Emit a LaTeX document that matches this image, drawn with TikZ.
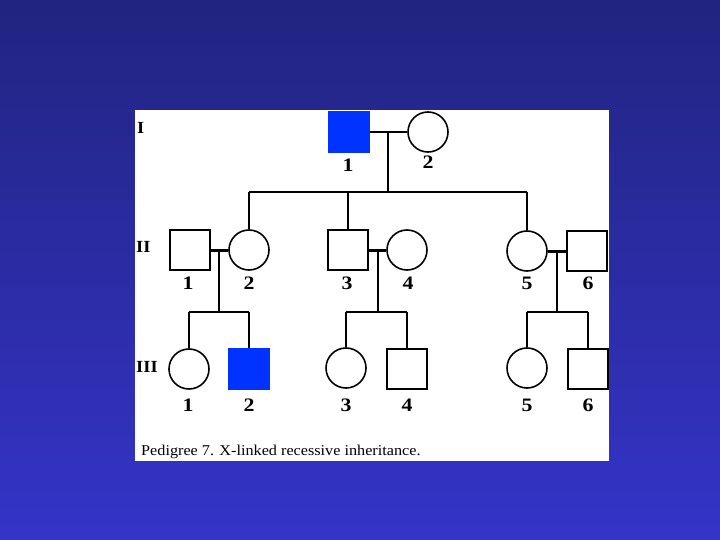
\documentclass[tikz,border=0pt]{standalone}
\usepackage{fontspec}
\setmainfont{Liberation Serif}
\definecolor{bgtop}{RGB}{34,36,128}
\definecolor{bgbot}{RGB}{52,52,200}
\definecolor{affected}{RGB}{0,51,255}
\begin{document}
\begin{tikzpicture}[x=1pt,y=-1pt,
  male/.style={draw=black,line width=1.6pt,rectangle,minimum size=40pt,inner sep=0pt,fill=white},
  female/.style={draw=black,line width=1.6pt,circle,minimum width=40pt,minimum height=40pt,inner sep=0pt,fill=white},
  aff/.style={fill=affected,draw=affected},
  num/.style={font=\fontsize{19}{19}\selectfont\bfseries,inner sep=0pt,xscale=1.15},
  gen/.style={font=\fontsize{17}{17}\selectfont\bfseries,inner sep=0pt,anchor=west,xscale=1.08},
  link/.style={line width=1.8pt},
  mate/.style={line width=3pt}]
\useasboundingbox (0,0) rectangle (720,540);
\shade[top color=bgtop,bottom color=bgbot] (0,0) rectangle (720,540);
\fill[white] (135,110) rectangle (609,461);

% Generation I
\node[male,aff] (I1) at (349,132) {};
\node[female] (I2) at (428,132) {};
\node[num] (lI1) at (348,165) {1};
\node[num] (lI2) at (428,162) {2};

% Generation II
\node[male] (II1) at (190,250) {};
\node[female] (II2) at (249,250) {};
\node[male] (II3) at (348,250) {};
\node[female] (II4) at (407,250) {};
\node[female] (II5) at (527,251) {};
\node[male] (II6) at (587,251) {};
\foreach \n/\x in {1/188,2/249,3/347,4/408,5/527,6/588}
  \node[num] (lII\n) at (\x,283) {\n};

% Generation III
\node[female] (III1) at (189,369) {};
\node[male,aff] (III2) at (249,369) {};
\node[female] (III3) at (346,368) {};
\node[male] (III4) at (407,369) {};
\node[female] (III5) at (527,368) {};
\node[male] (III6) at (588,369) {};
\foreach \n/\x in {1/188,2/249,3/346,4/407,5/527,6/588}
  \node[num] (lIII\n) at (\x,405) {\n};

% generation labels
\node[gen] (gI) at (137,128) {I};
\node[gen] (gII) at (136,247) {II};
\node[gen] (gIII) at (136,367) {III};

% connectors generation I
\coordinate (m1) at (388,132);
\coordinate (s1) at (388,192);
\coordinate (a1) at (249,192);
\coordinate (b1) at (348,192);
\coordinate (c1) at (527,192);
\draw[link] (I1.east) -- (I2.west);
\draw[link] (m1) -- (s1);
\draw[link] (a1) -- (c1);
\draw[link] (a1) -- (II2.north);
\draw[link] (b1) -- (II3.north);
\draw[link] (c1) -- (II5.north);

% family II-1 x II-2
\coordinate (m2) at (219,250);
\coordinate (s2) at (219,312);
\coordinate (a2) at (189,312);
\coordinate (b2) at (249,312);
\draw[mate] (II1.east) -- (II2.west);
\draw[link] (m2) -- (s2);
\draw[link] (a2) -- (b2);
\draw[link] (a2) -- (III1.north);
\draw[link] (b2) -- (III2.north);

% family II-3 x II-4
\coordinate (m3) at (378,250);
\coordinate (s3) at (378,312);
\coordinate (a3) at (346,312);
\coordinate (b3) at (407,312);
\draw[mate] (II3.east) -- (II4.west);
\draw[link] (m3) -- (s3);
\draw[link] (a3) -- (b3);
\draw[link] (a3) -- (III3.north);
\draw[link] (b3) -- (III4.north);

% family II-5 x II-6
\coordinate (m4) at (557,251);
\coordinate (s4) at (557,312);
\coordinate (a4) at (527,312);
\coordinate (b4) at (588,312);
\draw[mate] (II5.east) -- (II6.west);
\draw[link] (m4) -- (s4);
\draw[link] (a4) -- (b4);
\draw[link] (a4) -- (III5.north);
\draw[link] (b4) -- (III6.north);

% caption
\node[anchor=west,inner sep=0pt,font=\fontsize{15}{15}\selectfont,xscale=1.08] (cap) at (141,452) {Pedigree 7. X-linked recessive inheritance.};
\end{tikzpicture}
\end{document}
